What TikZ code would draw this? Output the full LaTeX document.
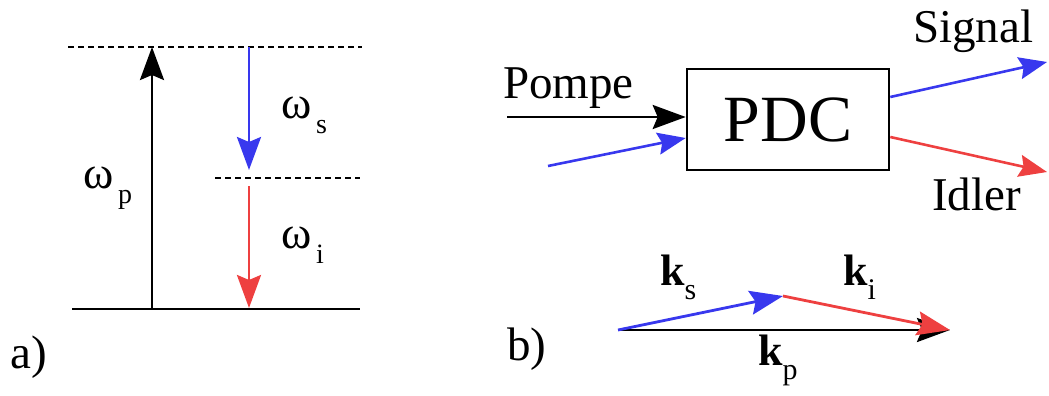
\documentclass[tikz,border=0pt]{standalone}
\usepackage{fontspec}
\newfontfamily\tms{Liberation Serif}
\usetikzlibrary{arrows.meta,positioning,calc}
\definecolor{SigBlue}{HTML}{3838EE}
\definecolor{IdlRed}{HTML}{EE4040}

% frequency / wave-vector label: symbol, lowered subscript
\newcommand{\omlab}[1]{\fontsize{46}{50}\tms ω\raisebox{-15pt}{\fontsize{28}{30}\tms\,#1}}
\newcommand{\klab}[1]{\fontsize{44}{48}\tms\textbf{k}\raisebox{-14pt}{\fontsize{30}{32}\tms #1}}

\begin{document}
\begin{tikzpicture}[x=1pt,y=-1pt]
  \path[use as bounding box] (0,0) rectangle (1049,396);

  \tikzset{
    spdcLevel/.style={draw=black,line width=2.8pt},
    spdcVirtual/.style={draw=black,line width=2.6pt,dash pattern=on 6pt off 4pt},
    spdcBig/.style={-{Stealth[length=33pt,width=24pt,inset=5pt]},line width=2.8pt},
    spdcSmall/.style={-{Stealth[length=28pt,width=22pt,inset=4pt]},line width=2.6pt},
    spdcText/.style={inner sep=0pt,font=\fontsize{47}{50}\tms}
  }

  % a) niveaux d'energie
  \coordinate (gl) at (72,309);  \coordinate (gr) at (360,309);
  \coordinate (tl) at (68,47);   \coordinate (tr) at (362,47);
  \coordinate (ml) at (215,178); \coordinate (mr) at (360,178);
  \draw[spdcLevel]   (gl) -- (gr);
  \draw[spdcVirtual] (tl) -- (tr);
  \draw[spdcVirtual] (ml) -- (mr);

  \coordinate (pbot) at (152,309); \coordinate (ptop) at (152,47);
  \coordinate (stop) at (249,47);  \coordinate (sbot) at (249,170);
  \coordinate (itop) at (249,186); \coordinate (ibot) at (249,308);
  \draw[spdcBig,black]     (pbot) -- (ptop);
  \draw[spdcBig,SigBlue]   (stop) -- (sbot);
  \draw[spdcBig,IdlRed]    (itop) -- (ibot);

  \node[anchor=base west,inner sep=0pt] (wp) at (83,188)  {\omlab{p}};
  \node[anchor=base west,inner sep=0pt] (ws) at (281,118) {\omlab{s}};
  \node[anchor=base west,inner sep=0pt] (wi) at (281,248) {\omlab{i}};
  \node[spdcText,anchor=base west] (la) at (10,368) {a)};

  % b) conversion parametrique
  \node[draw,line width=2.6pt,minimum width=202pt,minimum height=101pt,
        font=\fontsize{66}{70}\tms] (pdc) at (788,119.5) {PDC};

  \coordinate (pumpin) at (507,117);
  \coordinate (seedin) at (548,166);
  \coordinate (sigout) at (1047,62);
  \coordinate (idlout) at (1047,172);
  \draw[spdcBig,black]   (pumpin) -- (pumpin -| pdc.west);
  \draw[spdcSmall,SigBlue] (seedin) -- ([yshift=-18.5pt]pdc.west);
  \draw[spdcSmall,SigBlue] ([yshift=22.5pt]pdc.east) -- (sigout);
  \draw[spdcSmall,IdlRed]  ([yshift=-17.5pt]pdc.east) -- (idlout);

  \node[spdcText,anchor=base west] (pompe)  at (503,98)  {Pompe};
  \node[spdcText,anchor=base west] (signal) at (913,43)  {Signal};
  \node[spdcText,anchor=base west] (idler)  at (932,210) {Idler};

  % accord de phase
  \coordinate (k0) at (618,330);
  \coordinate (k1) at (783,296);
  \coordinate (k2) at (950,330);
  \draw[spdcBig,black]   (k0) -- (k2);
  \draw[spdcBig,SigBlue] (k0) -- (k1);
  \draw[spdcBig,IdlRed]  (k1) -- (k2);

  \node[anchor=base west,inner sep=0pt] (ks) at (660,285) {\klab{s}};
  \node[anchor=base west,inner sep=0pt] (ki) at (843,285) {\klab{i}};
  \node[anchor=base west,inner sep=0pt] (kp) at (758,365) {\klab{p}};
  \node[spdcText,anchor=base west] (lb) at (507,360) {b)};
\end{tikzpicture}
\end{document}
